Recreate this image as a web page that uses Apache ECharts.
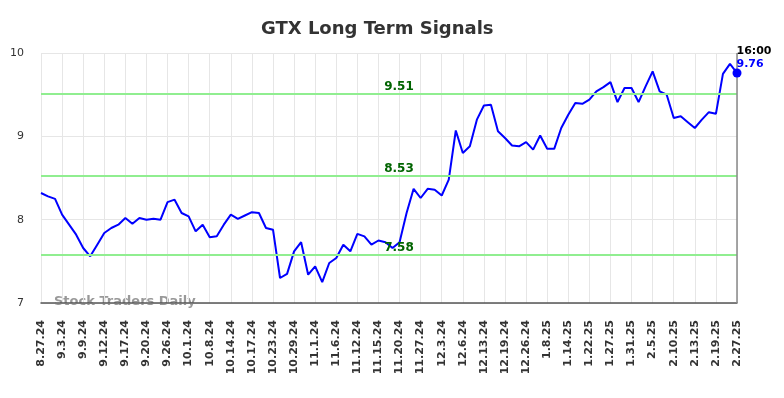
<!DOCTYPE html>
<html lang="en">
<head>
	<meta charset="utf-8">
	<title>GTX Long Term Signals</title>
	<script src="https://cdn.jsdelivr.net/npm/echarts@6/dist/echarts.min.js"></script>
</head>
<style>
	html,body{width: 100%; height: 100%; padding: 0; margin: 0; overflow: hidden; background: #fff;}
	#main{width: 784px; height: 398px;}
</style>
<body>
	<div id="main"></div>
</body>
<script type="text/javascript">
	// tick labels, one every 3 points
	var tickLabels = ['8.27.24','9.3.24','9.9.24','9.12.24','9.17.24','9.20.24','9.26.24','10.1.24','10.8.24',
		'10.14.24','10.17.24','10.23.24','10.29.24','11.1.24','11.6.24','11.12.24','11.15.24','11.20.24',
		'11.27.24','12.3.24','12.6.24','12.13.24','12.19.24','12.26.24','1.8.25','1.14.25','1.22.25',
		'1.27.25','1.31.25','2.5.25','2.10.25','2.13.25','2.19.25','2.27.25'];
	var prices = [8.32,8.28,8.25,8.06,7.94,7.82,7.66,7.56,7.70,7.84,
		7.90,7.94,8.02,7.95,8.02,8.00,8.01,8.00,8.21,8.24,
		8.08,8.04,7.86,7.94,7.79,7.80,7.94,8.06,8.01,8.05,
		8.09,8.08,7.90,7.88,7.30,7.35,7.62,7.73,7.34,7.44,
		7.25,7.48,7.54,7.70,7.62,7.83,7.80,7.70,7.75,7.73,
		7.66,7.73,8.08,8.37,8.26,8.37,8.36,8.29,8.48,9.07,
		8.80,8.88,9.20,9.37,9.38,9.06,8.98,8.89,8.88,8.93,
		8.84,9.01,8.85,8.85,9.10,9.26,9.40,9.39,9.44,9.54,
		9.59,9.65,9.41,9.58,9.58,9.41,9.60,9.78,9.54,9.50,
		9.22,9.24,9.17,9.10,9.20,9.29,9.27,9.75,9.87,9.76];
	var signals = [9.51, 8.53, 7.58];
	var lastTime = '16:00';

	var cats = [];
	for (var i = 0; i < prices.length; i++) {
		cats.push(i % 3 == 0 ? tickLabels[i / 3] : '');
	}
	var last = prices.length - 1;
	var lastData = [];
	for (var j = 0; j < prices.length; j++) lastData.push(j == last ? prices[j] : null);

	var myChart = echarts.init(document.getElementById('main'));
	var option = {
		animation: false,
		title: {
			text: 'GTX Long Term Signals',
			left: 256, top: 15,
			textStyle: {fontFamily: 'DejaVu Sans', fontSize: 18, fontWeight: 'bold', color: '#333'}
		},
		graphic: [{
			type: 'text', left: 54, top: 295,
			style: {text: 'Stock Traders Daily', font: 'bold 13px "DejaVu Sans"', fill: 'rgba(110,110,110,0.7)'}
		}],
		grid: {left: 41, right: 47, top: 53, bottom: 95},
		xAxis: {
			type: 'category',
			data: cats,
			boundaryGap: false,
			axisLine: {lineStyle: {color: '#555', width: 1.5}},
			axisTick: {show: false},
			axisLabel: {
				interval: 2, rotate: 90, margin: 17,
				fontFamily: 'DejaVu Sans', fontSize: 11, fontWeight: 'bold', color: '#333'
			},
			splitLine: {show: true, interval: 2, lineStyle: {color: '#e6e6e6', width: 1}}
		},
		yAxis: {
			type: 'value',
			min: 7, max: 10, interval: 1,
			axisLine: {show: false},
			axisTick: {show: false},
			axisLabel: {margin: 17, fontFamily: 'DejaVu Sans', fontSize: 11, color: '#333'},
			splitLine: {lineStyle: {color: '#e6e6e6', width: 1}}
		},
		series: [{
			type: 'line',
			data: prices,
			showSymbol: false,
			lineStyle: {color: '#0000ff', width: 2},
			itemStyle: {color: '#0000ff'},
			markLine: {
				silent: true,
				symbol: 'none',
				data: signals.map(function (v) {
					return {
						yAxis: v,
						lineStyle: {color: '#90ee90', width: 2, type: 'solid'},
						label: {
							show: true, position: 'insideMiddleTop', distance: 1, offset: [10, 0],
							formatter: v.toFixed(2),
							fontFamily: 'DejaVu Sans', fontSize: 12, fontWeight: 'bold', color: '#006400'
						}
					};
				}).concat([{
					xAxis: last,
					lineStyle: {color: '#888', width: 1.5, type: 'solid'},
					label: {show: false}
				}])
			}
		}, {
			type: 'line',
			data: lastData,
			z: 10,
			zlevel: 1,
			symbol: 'circle',
			symbolSize: 9,
			lineStyle: {opacity: 0},
			itemStyle: {color: '#0000ff'},
			label: {
				show: true,
				position: [4, -24],
				formatter: function (p) { return '{t|' + lastTime + '}\n{v|' + p.value.toFixed(2) + '}'; },
				rich: {
					t: {fontFamily: 'DejaVu Sans', fontSize: 11, fontWeight: 'bold', color: '#000', lineHeight: 13},
					v: {fontFamily: 'DejaVu Sans', fontSize: 11, fontWeight: 'bold', color: '#0000ff', lineHeight: 13}
				}
			}
		}]
	};
	myChart.setOption(option);
</script>
</html>
